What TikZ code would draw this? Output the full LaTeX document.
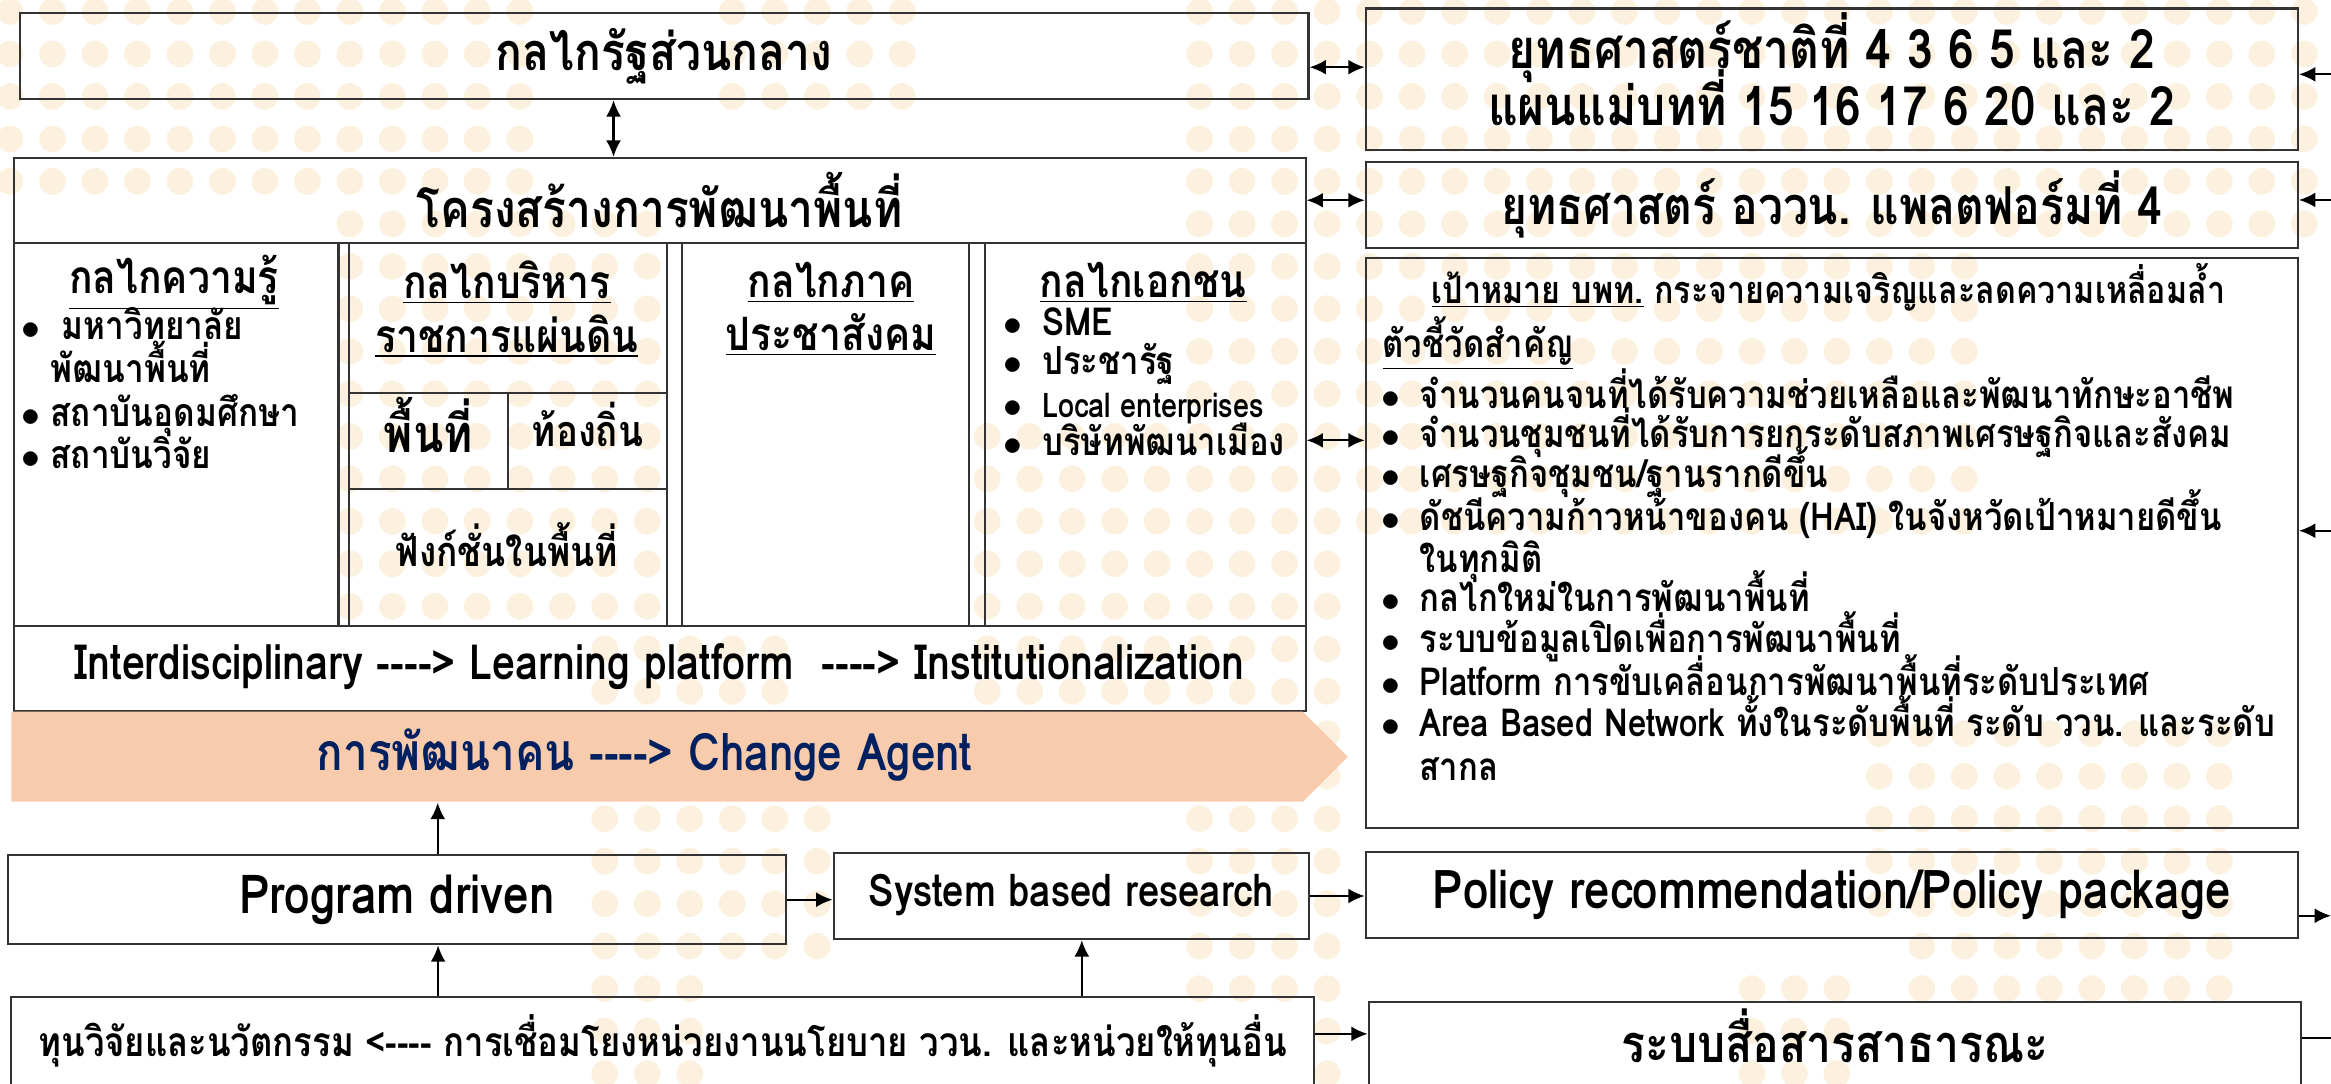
\documentclass[tikz,border=0pt]{standalone}
\usepackage{fontspec}
\setmainfont[Script=Thai, Ligatures=TeXOff, FakeStretch=0.85]{Loma}
\usetikzlibrary{positioning, arrows.meta, shapes.symbols}

\definecolor{dotfill}{RGB}{251,241,222}
\definecolor{peach}{RGB}{248,203,173}
\definecolor{navy}{RGB}{0,32,96}

\begin{document}
\begin{tikzpicture}[
                >={Latex[length=2.2mm,width=2mm]},
                line width=0.8pt,
                cell/.style={draw=black!80, rectangle, inner sep=0pt, anchor=north west},
                bigtxt/.style={font=\bfseries\fontsize{20}{21}\selectfont},
                headtxt/.style={font=\bfseries\fontsize{17.6}{20.5}\selectfont, align=center},
                itemtxt/.style={font=\bfseries\fontsize{14.8}{17}\selectfont, anchor=west, text height=10pt, text depth=3pt},
                bulitem/.style={itemtxt, label={[itemtxt, anchor=east]left:$\bullet$}},
                bgdot/.style={fill=dotfill, draw=none},
            ]
                \useasboundingbox (0,0) rectangle (31.36,-14.58);

                % Draw the dotted background
                \foreach \ia/\ib/\ja/\jb in {0/12/0/4, 17/21/0/2, 28/54/0/5, 31/46/6/12, 44/52/17/21, 31/31/6/25,
                        8/15/5/14, 23/30/10/14, 28/30/5/9, 14/18/15/16, 23/30/15/16, 14/19/19/22,
                        14/16/23/25, 28/30/19/23, 45/52/19/23, 41/43/23/25}
                    \foreach \i in {\ia,...,\ib}
                        \foreach \j in {\ja,...,\jb}
                            \fill[bgdot] (0.134+0.5716*\i, -0.154-0.5716*\j) circle (0.18);

                % Draw the left column
                \node[cell, bigtxt, minimum width=17.34cm, minimum height=1.16cm] (state) at (0.25,-0.16) {กลไกรัฐส่วนกลาง};
                \node[cell, bigtxt, minimum width=17.38cm, minimum height=1.14cm] (struct) at (0.17,-2.11) {โครงสร้างการพัฒนาพื้นที่};

                % Draw the four mechanism columns
                \node[cell, minimum width=4.37cm, minimum height=5.16cm] (know) at (0.17,-3.25) {};
                \node[cell, minimum width=4.28cm, minimum height=5.16cm] (admin) at (4.68,-3.25) {};
                \node[cell, minimum width=3.86cm, minimum height=5.16cm] (civil) at (9.16,-3.25) {};
                \node[cell, minimum width=4.31cm, minimum height=5.16cm] (private) at (13.24,-3.25) {};
                \node[cell, minimum width=2.14cm, minimum height=1.30cm, text depth=0.45cm, font=\bfseries\fontsize{20}{22}\selectfont] (area) at (4.68,-5.27) {พื้นที่};
                \node[cell, minimum width=2.14cm, minimum height=1.30cm, text depth=0.45cm, font=\bfseries\fontsize{16.5}{18}\selectfont] (local) at (6.82,-5.27) {ท้องถิ่น};

                \node[headtxt] (know-h) at (2.34,-3.80) {\underline{กลไกความรู้}};
                \node[headtxt] (admin-h) at (6.82,-4.16) {\underline{กลไกบริหาร}\\\underline{ราชการแผ่นดิน}};
                \node[headtxt] (civil-h) at (11.18,-4.16) {\underline{กลไกภาค}\\\underline{ประชาสังคม}};
                \node[headtxt] (private-h) at (15.38,-3.80) {\underline{กลไกเอกชน}};
                \node[font=\bfseries\fontsize{15.9}{18}\selectfont] (func) at (6.82,-7.33) {ฟังก์ชั่นในพื้นที่};

                \node[itemtxt, font=\bfseries\fontsize{15}{17}\selectfont, label={[itemtxt, anchor=east, inner sep=0pt]left:$\bullet$}] (know-1) at (0.55,-4.44) {\ มหาวิทยาลัย};
                \node[itemtxt, font=\bfseries\fontsize{15}{17}\selectfont] (know-1b) at (0.55,-5.02) {พัฒนาพื้นที่};
                \node[itemtxt, font=\bfseries\fontsize{15}{17}\selectfont, label={[itemtxt, anchor=east, inner sep=0pt]left:$\bullet$}] (know-2) at (0.55,-5.62) {สถาบันอุดมศึกษา};
                \node[itemtxt, font=\bfseries\fontsize{15}{17}\selectfont, label={[itemtxt, anchor=east, inner sep=0pt]left:$\bullet$}] (know-3) at (0.55,-6.18) {สถาบันวิจัย};

                \foreach \name/\y/\txt in {1/4.39/{SME}, 2/4.92/{ประชารัฐ}, 4/6.00/{บริษัทพัฒนาเมือง}}
                    \node[bulitem] (private-\name) at (13.89,-\y) {\txt};
                \node[bulitem, font=\bfseries\fontsize{13}{15}\selectfont] (private-3) at (13.89,-5.50) {Local enterprises};

                \node[cell, font=\bfseries\fontsize{18.6}{20}\selectfont, minimum width=17.38cm, minimum height=1.14cm, text depth=0.2cm] (path) at (0.17,-8.41)
                    {Interdisciplinary ----> Learning platform ~----> Institutionalization};

                % Draw the people arrow
                \node[signal, signal to=east, signal from=nowhere, fill=peach, draw=none, inner sep=0pt,
                    minimum width=17.98cm, minimum height=1.21cm, anchor=west] (agent) at (0.14,-10.18) {};
                \node[font=\bfseries\fontsize{19.8}{22}\selectfont, text=navy] (agent-t) at (8.67,-10.16) {การพัฒนาคน ----> Change Agent};

                % Draw the bottom row
                \node[cell, font=\bfseries\fontsize{20.6}{22}\selectfont, minimum width=10.47cm, minimum height=1.20cm] (prog) at (0.09,-11.49) {Program driven};
                \node[cell, font=\bfseries\fontsize{17.2}{19}\selectfont, minimum width=6.40cm, minimum height=1.16cm, text depth=0.15cm] (sys) at (11.20,-11.46) {System based research};
                \node[cell, font=\bfseries\fontsize{15.6}{18}\selectfont, minimum width=17.52cm, minimum height=1.19cm, text depth=0.15cm] (fund) at (0.14,-13.40)
                    {ทุนวิจัยและนวัตกรรม <---- การเชื่อมโยงหน่วยงานนโยบาย ววน. และหน่วยให้ทุนอื่น};

                % Draw the right column
                \node[cell, minimum width=12.54cm, minimum height=1.90cm] (nat) at (18.36,-0.10) {};
                \node[font=\bfseries\fontsize{20.8}{20.5}\selectfont, align=center] (nat-t) at ([yshift=0.13cm]nat.center)
                    {ยุทธศาสตร์ชาติที่ 4 3 6 5 และ 2\\[-6pt]แผนแม่บทที่ 15 16 17 6 20 และ 2};
                \node[cell, bigtxt, minimum width=12.54cm, minimum height=1.16cm] (plat) at (18.36,-2.16) {ยุทธศาสตร์ อววน. แพลตฟอร์มที่ 4};
                \node[cell, minimum width=12.54cm, minimum height=7.66cm] (goal) at (18.36,-3.46) {};
                \node[cell, font=\bfseries\fontsize{20.5}{22}\selectfont, minimum width=12.54cm, minimum height=1.15cm] (policy) at (18.36,-11.45) {Policy recommendation/Policy package};
                \node[cell, minimum width=12.54cm, minimum height=1.30cm] (comm) at (18.40,-13.47) {};
                \node[bigtxt] (comm-t) at ([yshift=-0.47cm]comm.north) {ระบบสื่อสารสาธารณะ};

                \node[font=\bfseries\fontsize{14.5}{16}\selectfont] (goal-h) at (24.60,-3.86) {\underline{เป้าหมาย บพท.} กระจายความเจริญและลดความเหลื่อมล้ำ};
                \node[itemtxt] (kpi) at (18.47,-4.68) {\underline{ตัวชี้วัดสำคัญ}};
                \foreach \name/\y/\txt in {1/5.37/{จำนวนคนจนที่ได้รับความช่วยเหลือและพัฒนาทักษะอาชีพ},
                        2/5.90/{จำนวนชุมชนที่ได้รับการยกระดับสภาพเศรษฐกิจและสังคม},
                        3/6.44/{เศรษฐกิจชุมชน/ฐานรากดีขึ้น},
                        4/7.02/{ดัชนีความก้าวหน้าของคน (HAI) ในจังหวัดเป้าหมายดีขึ้น},
                        5/8.10/{กลไกใหม่ในการพัฒนาพื้นที่},
                        6/8.66/{ระบบข้อมูลเปิดเพื่อการพัฒนาพื้นที่},
                        7/9.24/{Platform การขับเคลื่อนการพัฒนาพื้นที่ระดับประเทศ},
                        8/9.78/{Area Based Network ทั้งในระดับพื้นที่ ระดับ ววน. และระดับ}}
                    \node[bulitem] (kpi-\name) at (18.97,-\y) {\txt};
                \node[itemtxt] (kpi-4b) at (18.97,-7.58) {ในทุกมิติ};
                \node[itemtxt] (kpi-8b) at (18.97,-10.38) {สากล};

                % Connect the boxes
                \draw[<->] ([xshift=-0.68cm]state.south) -- ([xshift=-0.68cm]state.south |- struct.north);
                \draw[<->] ([yshift=-0.15cm]state.east) -- ([yshift=-0.15cm]state.east -| nat.west);
                \draw[<->] (struct.east) -- (struct.east -| plat.west);
                \draw[<->] ([yshift=-0.08cm]private.east) -- ([yshift=-0.08cm]private.east -| goal.west);
                \draw[->] ([xshift=0.55cm]prog.north) -- ([xshift=0.55cm]prog.north |- agent.south);
                \draw[->] ([xshift=-3.02cm]fund.north) -- ([xshift=-3.02cm]fund.north |- prog.south);
                \draw[->] ([xshift=5.64cm]fund.north) -- ([xshift=5.64cm]fund.north |- sys.south);
                \draw[->] (prog.east) -- (prog.east -| sys.west);
                \draw[->] (sys.east) -- (sys.east -| policy.west);
                \draw[->] ([yshift=0.1cm]fund.east) -- ([yshift=0.1cm]fund.east -| comm.west);

                % Links to the outside on the right
                \coordinate (out-1) at (31.36,-1.00);
                \coordinate (out-2) at (31.36,-2.69);
                \coordinate (out-3) at (31.36,-7.14);
                \coordinate (out-4) at (31.36,-12.32);
                \coordinate (out-5) at (31.36,-13.96);
                \draw[->] (out-1) -- (out-1 -| nat.east);
                \draw[->] (out-2) -- (out-2 -| plat.east);
                \draw[->] (out-3) -- (out-3 -| goal.east);
                \draw[->] (out-4 -| policy.east) -- (out-4);
                \draw (out-5 -| comm.east) -- (out-5);
            \end{tikzpicture}
\end{document}
